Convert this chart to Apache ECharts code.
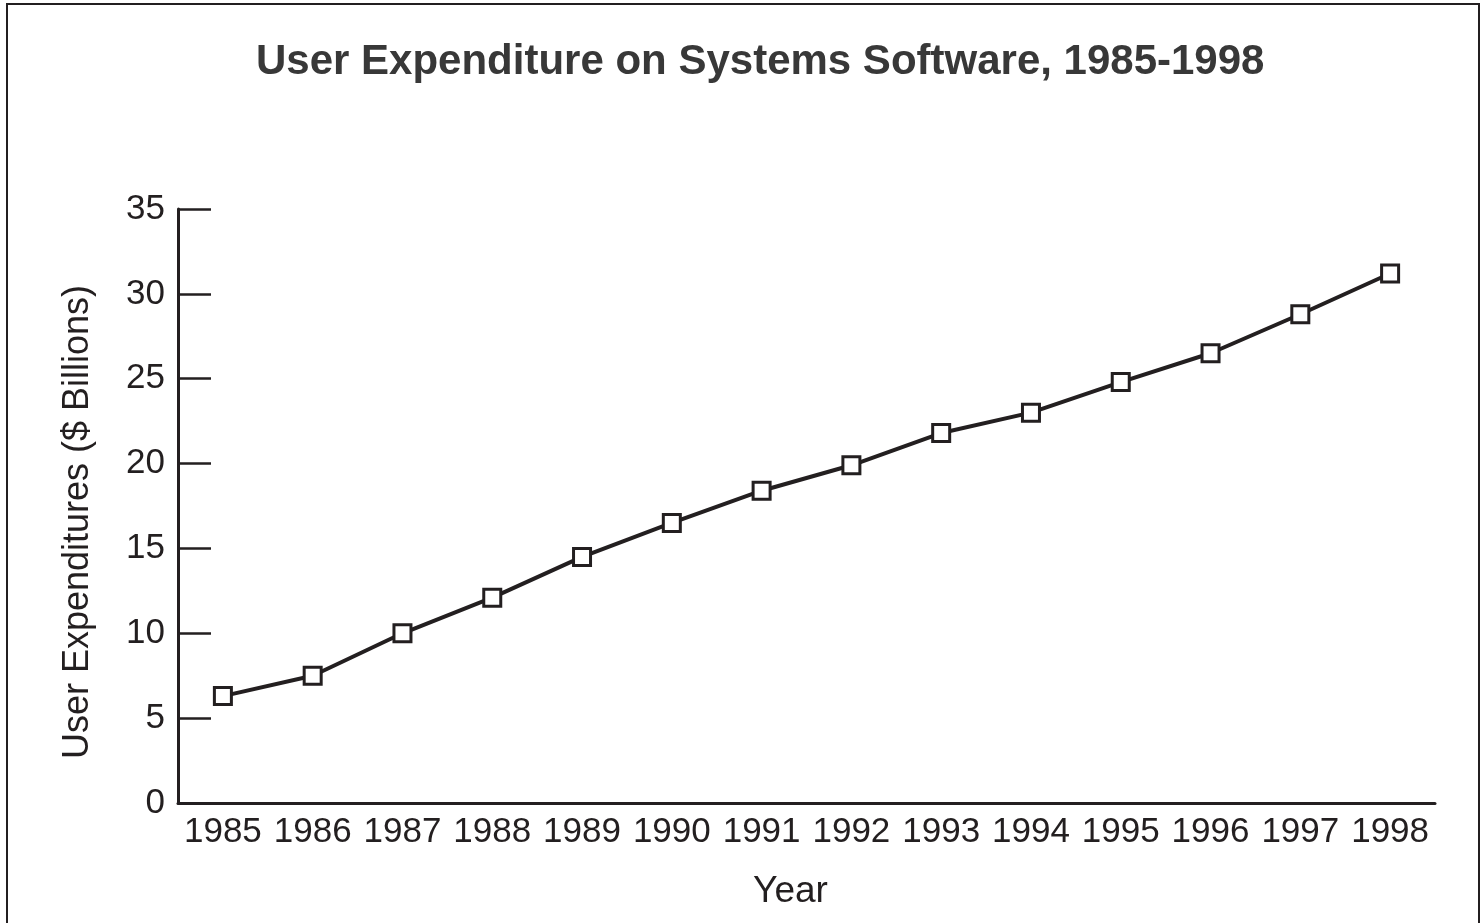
<!DOCTYPE html>
<html lang="en">
<head>
<meta charset="UTF-8">
<title>User Expenditure on Systems Software</title>
<script src="https://cdn.jsdelivr.net/npm/echarts@6/dist/echarts.min.js"></script>
<style>
html, body { margin: 0; padding: 0; background: #fff; }
#main { width: 1483px; height: 923px; }
</style>
</head>
<body>
<div id="main"></div>
<script>
// data
var years = ['1985', '1986', '1987', '1988', '1989', '1990', '1991',
             '1992', '1993', '1994', '1995', '1996', '1997', '1998'];
var spending = [6.3, 7.5, 10.0, 12.1, 14.5, 16.5, 18.4,
                19.9, 21.8, 23.0, 24.8, 26.5, 28.8, 31.2];
var yTicks = [0, 5, 10, 15, 20, 25, 30, 35];

var font = '"Liberation Sans", Arial, Helvetica, sans-serif';
var ink = '#231f20';

var chart = echarts.init(document.getElementById('main'));
chart.setOption({
    backgroundColor: '#fff',
    animation: false,
    textStyle: { fontFamily: font },
    title: {
        text: 'User Expenditure on Systems Software, 1985-1998',
        left: 256,
        top: 41,
        padding: 0,
        textStyle: { fontSize: 42, fontWeight: 'bold', color: '#383838', fontFamily: font }
    },
    graphic: [{
        type: 'rect',
        shape: { x: 7, y: 4, width: 1472, height: 930 },
        style: { fill: 'none', stroke: ink, lineWidth: 2 },
        silent: true
    }],
    grid: { left: 178, right: 48, top: 209, bottom: 120 },
    xAxis: {
        type: 'category',
        data: years,
        boundaryGap: true,
        name: 'Year',
        nameLocation: 'middle',
        nameGap: 70,
        nameTextStyle: { fontSize: 37, color: ink, fontFamily: font, padding: [0, 32, 0, 0] },
        axisLine: { lineStyle: { color: ink, width: 3 } },
        axisTick: { show: false },
        axisLabel: { interval: 0, fontSize: 35, color: ink, margin: 12, fontFamily: font },
        splitLine: { show: false }
    },
    yAxis: {
        type: 'value',
        min: yTicks[0],
        max: yTicks[yTicks.length - 1],
        interval: 5,
        name: 'User Expenditures ($ Billions)',
        nameLocation: 'middle',
        nameGap: 82,
        nameTextStyle: { fontSize: 36, color: ink, fontFamily: font, padding: [0, 32, 0, 0] },
        axisLine: { show: true, lineStyle: { color: ink, width: 3 } },
        axisTick: { show: true, inside: true, length: 33, lineStyle: { color: ink, width: 2.5 } },
        axisLabel: { fontSize: 35, color: ink, margin: 13, fontFamily: font },
        splitLine: { show: false }
    },
    series: [{
        type: 'line',
        data: spending,
        symbol: 'rect',
        symbolSize: 17,
        lineStyle: { color: ink, width: 4 },
        itemStyle: { color: '#fff', borderColor: ink, borderWidth: 3 }
    }]
});
</script>
</body>
</html>
